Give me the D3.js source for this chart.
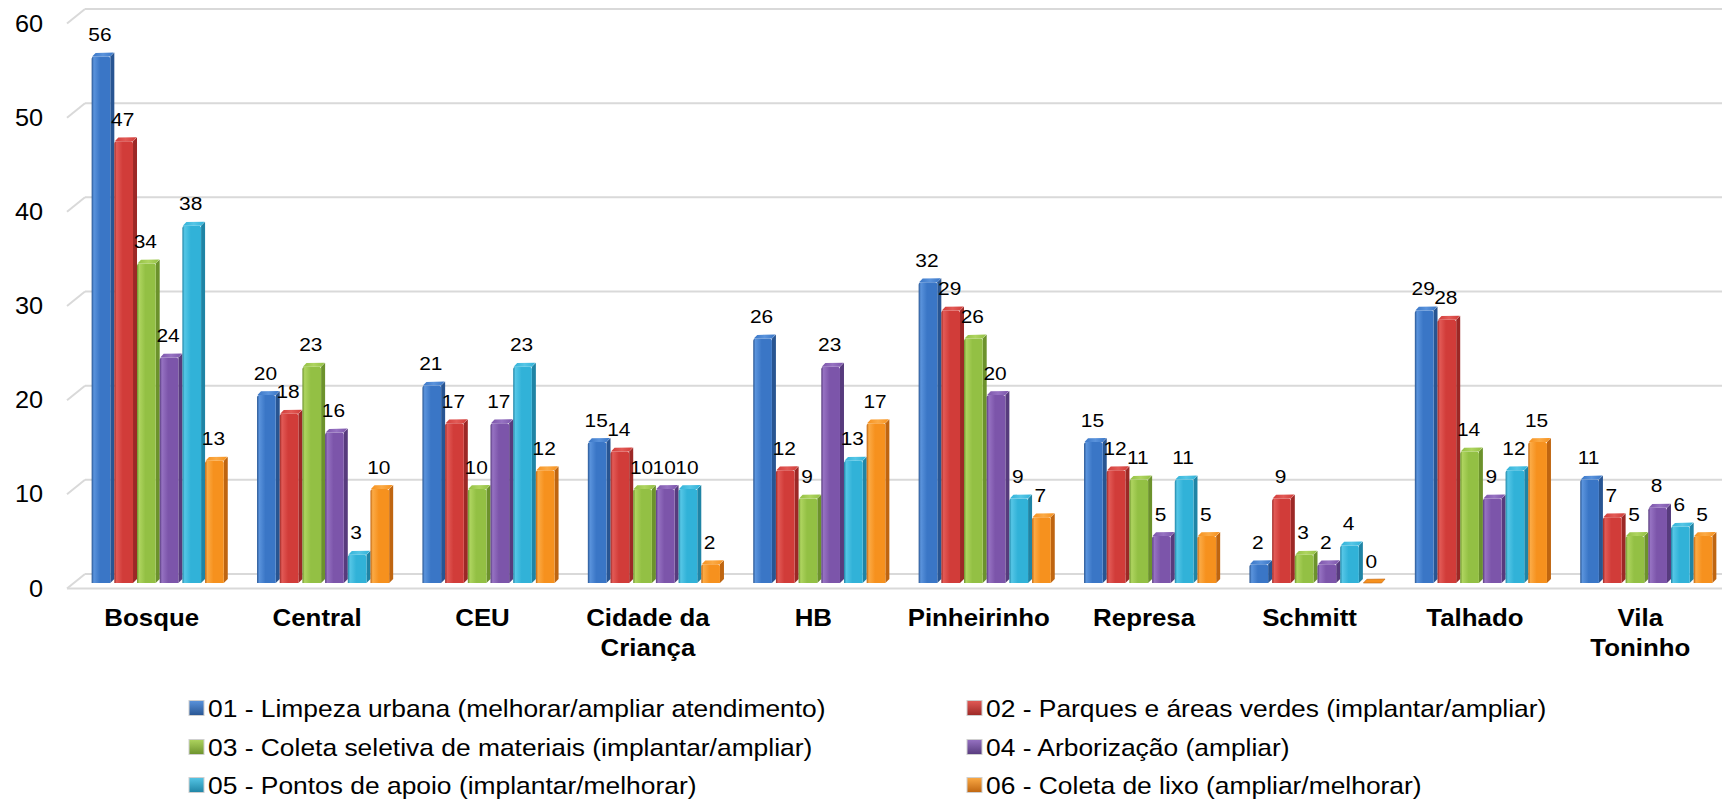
<!DOCTYPE html>
<html>
<head>
<meta charset="utf-8">
<script src="https://cdn.jsdelivr.net/npm/d3@7"></script>
<style>
  html, body { margin: 0; background: #fff; }
  svg { display: block; }
  text { font-family: "Liberation Sans", Arial, sans-serif; fill: #000; }
</style>
</head>
<body>
<svg id="chart" width="1722" height="811"></svg>
<script>
// ---- data ----
const categories = ["Bosque", "Central", "CEU", "Cidade da Criança", "HB", "Pinheirinho", "Represa", "Schmitt", "Talhado", "Vila Toninho"];
const categoryLines = [["Bosque"], ["Central"], ["CEU"], ["Cidade da", "Criança"], ["HB"], ["Pinheirinho"], ["Represa"], ["Schmitt"], ["Talhado"], ["Vila", "Toninho"]];

const seriesNames = [
  "01 - Limpeza urbana (melhorar/ampliar atendimento)",
  "02 - Parques e áreas verdes (implantar/ampliar)",
  "03 - Coleta seletiva de materiais (implantar/ampliar)",
  "04 - Arborização (ampliar)",
  "05 - Pontos de apoio (implantar/melhorar)",
  "06 - Coleta de lixo (ampliar/melhorar)"
];
const limpezaUrbana   = [56, 20, 21, 15, 26, 32, 15, 2, 29, 11];
const parquesAreas    = [47, 18, 17, 14, 12, 29, 12, 9, 28, 7];
const coletaSeletiva  = [34, 23, 10, 10, 9, 26, 11, 3, 14, 5];
const arborizacao     = [24, 16, 17, 10, 23, 20, 5, 2, 9, 8];
const pontosApoio     = [38, 3, 23, 10, 13, 9, 11, 4, 12, 6];
const coletaLixo      = [13, 10, 12, 2, 17, 7, 5, 0, 15, 5];
const seriesValues = [limpezaUrbana, parquesAreas, coletaSeletiva, arborizacao, pontosApoio, coletaLixo];

const yTicks = [0, 10, 20, 30, 40, 50, 60];

// base, light, dark tones per series
const palette = [
  { base: "#3a76c6", light: "#5a93dc", dark: "#285592" },
  { base: "#d13c39", light: "#e25a56", dark: "#9c2826" },
  { base: "#93c044", light: "#aed45f", dark: "#6c922c" },
  { base: "#7c55aa", light: "#9672c2", dark: "#573b7d" },
  { base: "#31b2d8", light: "#55c6e6", dark: "#1f84a5" },
  { base: "#f6911e", light: "#fbaa45", dark: "#bf6510" }
];

// ---- layout ----
const SX = 1.1;               // horizontal text stretch
const depth = 4;              // bar depth offset
const svg = d3.select("#chart");

const x = d3.scaleBand().domain(categories).range([77, 1731]).paddingInner(0.177).paddingOuter(0.0885);
const xs = d3.scaleBand().domain(d3.range(seriesNames.length)).range([0, x.bandwidth()]);
const yBar = d3.scaleLinear().domain([0, 60]).range([583, 19]);
const yGrid = d3.scaleLinear().domain([0, 60]).range([574, 9]);
const wallX = 85, frontX = 67, frontDrop = 14.5;

function sText(parent, px, py, str, size, opts = {}) {
  const g = parent.append("g").attr("transform", `translate(${px},${py}) scale(${SX},1)`);
  return g.append("text")
    .attr("x", 0).attr("y", 0)
    .attr("font-size", size)
    .attr("font-weight", opts.bold ? "bold" : "normal")
    .attr("text-anchor", opts.anchor || "middle")
    .attr("dominant-baseline", "central")
    .text(str);
}

// ---- gradients ----
const defs = svg.append("defs");
palette.forEach((c, i) => {
  const g = defs.append("linearGradient").attr("id", "front" + i).attr("x1", 0).attr("x2", 1).attr("y1", 0).attr("y2", 0);
  g.append("stop").attr("offset", 0).attr("stop-color", c.dark);
  g.append("stop").attr("offset", 0.12).attr("stop-color", c.light);
  g.append("stop").attr("offset", 0.45).attr("stop-color", c.base);
  g.append("stop").attr("offset", 1).attr("stop-color", c.base);
  const t = defs.append("linearGradient").attr("id", "top" + i).attr("x1", 0).attr("x2", 1).attr("y1", 0).attr("y2", 0);
  t.append("stop").attr("offset", 0).attr("stop-color", c.base);
  t.append("stop").attr("offset", 0.5).attr("stop-color", c.light);
  t.append("stop").attr("offset", 1).attr("stop-color", c.base);
  const s = defs.append("linearGradient").attr("id", "swatch" + i).attr("x1", 0).attr("x2", 0).attr("y1", 0).attr("y2", 1);
  s.append("stop").attr("offset", 0).attr("stop-color", c.light);
  s.append("stop").attr("offset", 1).attr("stop-color", c.dark);
});

// ---- gridlines (back wall + left side wall) ----
const grid = svg.append("g").attr("stroke", "#d9d9d9").attr("stroke-width", 2).attr("fill", "none");
yTicks.forEach(v => {
  const yb = yGrid(v);
  grid.append("line").attr("x1", wallX).attr("x2", 1722).attr("y1", yb).attr("y2", yb);
  grid.append("line").attr("x1", frontX).attr("x2", wallX).attr("y1", yb + frontDrop).attr("y2", yb);
});
// floor front edge
grid.append("line").attr("x1", frontX).attr("x2", 1722)
  .attr("y1", yGrid(0) + frontDrop).attr("y2", yGrid(0) + frontDrop);

// ---- y tick labels ----
const yLab = svg.append("g");
yTicks.forEach(v => sText(yLab, 43, yGrid(v) + frontDrop, String(v), 23, { anchor: "end" }));

// ---- bars ----
const bars = svg.append("g");
const w = xs.bandwidth() - depth;
const r = 2.5; // rounded front top corners
categories.forEach((cat, ci) => {
  seriesValues.forEach((vals, si) => {
    const v = vals[ci];
    const x0 = x(cat) + xs(si);
    const y0 = yBar(0), y1 = yBar(v);
    const c = palette[si];
    const g = bars.append("g");
    if (v > 0) {
      // right side face
      g.append("path")
        .attr("d", `M${x0 + w},${y1} L${x0 + w + depth},${y1 - depth} L${x0 + w + depth},${y0 - depth} L${x0 + w},${y0} Z`)
        .attr("fill", c.dark);
      // front face
      g.append("path")
        .attr("d", `M${x0},${y0} L${x0},${y1 + r} Q${x0},${y1} ${x0 + r},${y1} L${x0 + w - r},${y1} Q${x0 + w},${y1} ${x0 + w},${y1 + r} L${x0 + w},${y0} Z`)
        .attr("fill", `url(#front${si})`);
    }
    // top face
    g.append("path")
      .attr("d", `M${x0 + 0.5},${y1} L${x0 + depth},${y1 - depth + 0.3} L${x0 + w + depth - 0.5},${y1 - depth} L${x0 + w},${y1} Z`)
      .attr("fill", v > 0 ? `url(#top${si})` : c.base)
      .attr("stroke", v > 0 ? "none" : c.dark).attr("stroke-width", 0.6)
      .attr("stroke-linejoin", "round");
  });
});

// ---- value labels ----
const vLab = svg.append("g");
categories.forEach((cat, ci) => {
  seriesValues.forEach((vals, si) => {
    const v = vals[ci];
    const cx = x(cat) + xs(si) + w / 2 - 1;
    sText(vLab, cx, yBar(v) - 22, String(v), 19);
  });
});

// ---- category labels ----
const cLab = svg.append("g");
categories.forEach((cat, ci) => {
  const cx = x(cat) + x.bandwidth() / 2 - 8;
  categoryLines[ci].forEach((line, li) => sText(cLab, cx, 618 + li * 30, line, 23.5, { bold: true }));
});

// ---- legend ----
const legend = svg.append("g");
const legendCols = [189, 967];
const legendRows = [708, 747, 785];
seriesNames.forEach((name, i) => {
  const lx = legendCols[i % 2], ly = legendRows[Math.floor(i / 2)];
  legend.append("rect")
    .attr("x", lx).attr("y", ly - 7.5).attr("width", 15).attr("height", 15)
    .attr("fill", `url(#swatch${i})`).attr("stroke", "#cfcfcf").attr("stroke-width", 1);
  sText(legend, lx + 19, ly, name, 24, { anchor: "start" });
});
</script>
</body>
</html>
